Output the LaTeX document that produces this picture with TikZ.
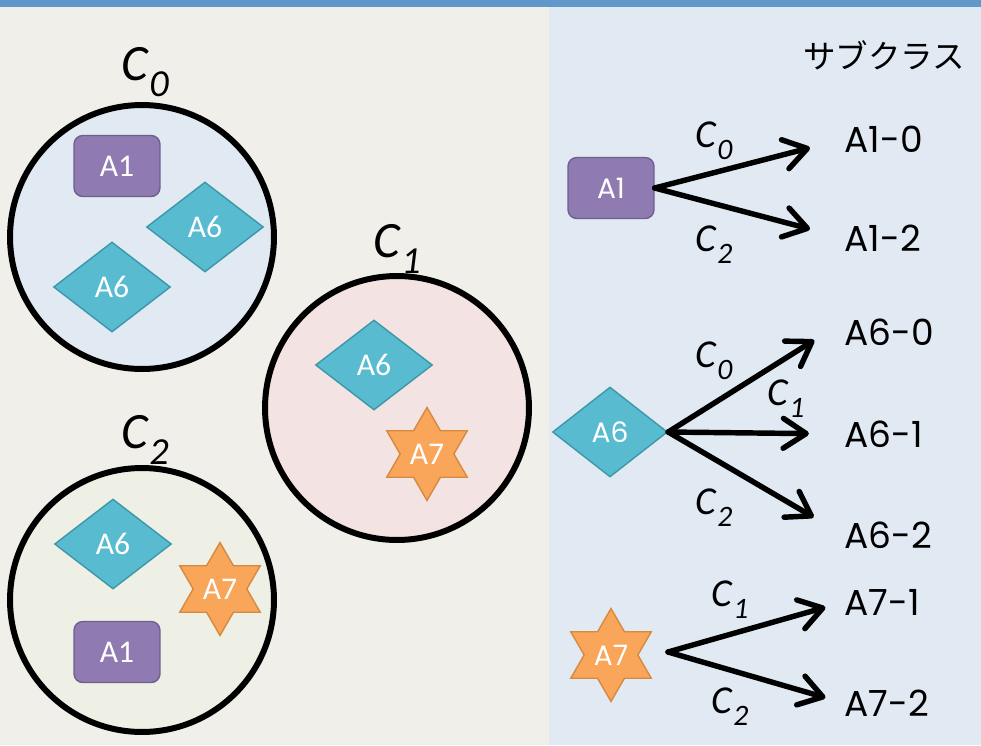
\documentclass[tikz,border=0pt]{standalone}
\usepackage{fontspec}
\setmainfont{Carlito}
\newfontfamily\geofont{Poppins}
\newfontfamily\jpfont{Noto Sans CJK JP}
\usetikzlibrary{shapes.geometric,arrows.meta}

\definecolor{topbar}{HTML}{6197C9}
\definecolor{leftbg}{HTML}{F1EFE9}
\definecolor{rightbg}{HTML}{E1E9F3}
\definecolor{czero}{HTML}{E1E9F2}
\definecolor{cone}{HTML}{F4E3E3}
\definecolor{ctwo}{HTML}{EFF0E5}
\definecolor{purpfill}{HTML}{8F7BB1}
\definecolor{purpline}{HTML}{6F5E90}
\definecolor{aqfill}{HTML}{58BBD0}
\definecolor{aqline}{HTML}{3C97A9}
\definecolor{orfill}{HTML}{F9A55A}
\definecolor{orline}{HTML}{D68A3F}

% italic C with a lowered index
\newcommand{\clab}[1]{\textit{C\kern0.03em\raisebox{-0.3em}{\scalebox{0.75}{#1}}}}

\begin{document}
\begin{tikzpicture}[x=0.02cm,y=-0.02cm,
  cluster/.style={circle,draw=black,line width=3.4pt,minimum size=5.28cm,inner sep=0pt},
  clname/.style={inner sep=0pt,font=\fontsize{29}{34}\selectfont},
  boxA/.style={draw=purpline,fill=purpfill,line width=0.8pt,rounded corners=5pt,minimum width=1.72cm,minimum height=1.22cm,text=white},
  diaA/.style={diamond,draw=aqline,fill=aqfill,line width=0.8pt,minimum width=2.34cm,minimum height=1.8cm,inner sep=0pt,text=white},
  starA/.style={star,star points=6,star point ratio=1.732,draw=orline,fill=orfill,line width=0.8pt,minimum size=1.86cm,inner sep=0pt,text=white},
  inlab/.style={font=\fontsize{18}{20}\selectfont},
  sidelab/.style={font=\geofont\fontsize{16}{18}\selectfont},
  sub/.style={anchor=west,inner sep=0pt,font=\geofont\fontsize{20.5}{22}\selectfont},
  elab/.style={inner sep=0pt,font=\fontsize{22.5}{24}\selectfont},
  branch/.style={line width=3.1pt,line cap=round,-{Straight Barb[length=13pt,width=17pt,line cap=round,line join=round]}}]
\useasboundingbox (0,0) rectangle (981,745);
% backgrounds
\fill[leftbg] (0,0) rectangle (549,745);
\fill[rightbg] (549,0) rectangle (981,745);
\fill[topbar] (0,0) rectangle (981,7);

% clusters
\node[cluster,fill=czero] (c0) at (142,237) {};
\node[cluster,fill=cone] (c1) at (397,408) {};
\node[cluster,fill=ctwo] (c2) at (142,600) {};
\node[clname] (c0name) at (145,72) {\clab{0}};
\node[clname] (c1name) at (397,249) {\clab{1}};
\node[clname] (c2name) at (145,440) {\clab{2}};

% members
\node[boxA,inlab] (c0a1) at (117,166) {A1};
\node[diaA,inlab] (c0a6) at (205,227) {A6};
\node[diaA,inlab] (c0a6b) at (112,287) {A6};
\node[diaA,inlab] (c1a6) at (374,365) {A6};
\node[starA,inlab] (c1a7) at (427,454) {A7};
\node[diaA,inlab] (c2a6) at (113,544) {A6};
\node[starA,inlab] (c2a7) at (220,589) {A7};
\node[boxA,inlab] (c2a1) at (117,652) {A1};

% subclasses
\node[font=\jpfont\fontsize{18.5}{20}\selectfont] (title) at (884,55) {サブクラス};

\node[boxA,sidelab] (a1) at (611,188) {A1};
\node[sub] (a1x0) at (844,139) {A1-0};
\node[sub] (a1x2) at (844,238) {A1-2};
\draw[branch,shorten >=20pt] (a1.east) -- (a1x0.west);
\draw[branch,shorten >=20pt] (a1.east) -- (a1x2.west);
\node[elab] at (714,141) {\clab{0}};
\node[elab] at (714,245) {\clab{2}};

\node[diaA,sidelab,minimum width=2.3cm] (a6) at (610,432) {A6};
\node[sub] (a6x0) at (844,332) {A6-0};
\node[sub] (a6x1) at (844,434) {A6-1};
\node[sub] (a6x2) at (844,535) {A6-2};
\draw[branch,shorten >=20pt] (a6.east) -- ([yshift=6pt]a6x0.west);
\draw[branch,shorten >=20pt] (a6.east) -- (a6x1.west);
\draw[branch,shorten >=20pt] (a6.east) -- (a6x2.west);
\node[elab] at (714,361) {\clab{0}};
\node[elab] at (786,399) {\clab{1}};
\node[elab] at (714,508) {\clab{2}};

\node[starA,sidelab] (a7) at (611,655) {A7};
\coordinate (a7o) at (668,652);
\node[sub] (a7x1) at (844,602) {A7-1};
\node[sub] (a7x2) at (844,703) {A7-2};
\draw[branch,shorten >=11pt] (a7o) -- (a7x1.west);
\draw[branch,shorten >=11pt] (a7o) -- (a7x2.west);
\node[elab] at (730,600) {\clab{1}};
\node[elab] at (730,707) {\clab{2}};
\end{tikzpicture}
\end{document}
